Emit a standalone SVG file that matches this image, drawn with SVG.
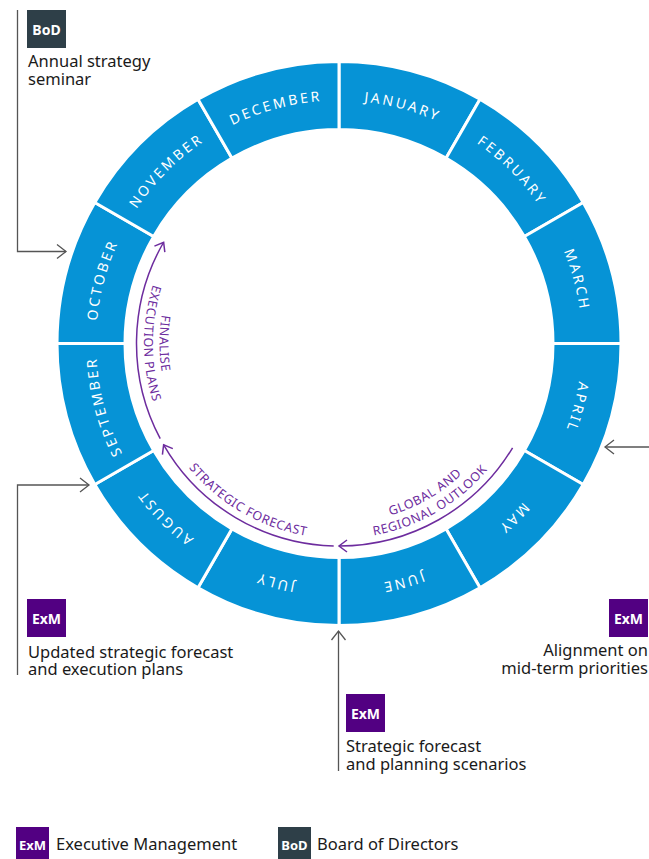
<svg xmlns="http://www.w3.org/2000/svg" width="649" height="859" viewBox="0 0 649 859">
<style>
.seg{fill:#0693d6;stroke:#ffffff;stroke-width:3}
.mon{font-family:"Noto Sans","DejaVu Sans",sans-serif;font-size:14px;letter-spacing:2.6px;fill:#ffffff}
.ptxt{font-family:"Noto Sans","DejaVu Sans",sans-serif;font-size:12.5px;letter-spacing:0.6px;fill:#6d2c9e}
.parc{fill:none;stroke:#6d2c9e;stroke-width:1.5;marker-end:url(#pa)}
.conn{fill:none;stroke:#555555;stroke-width:1.3;marker-end:url(#ga)}
.lbl{font-family:"Noto Sans","DejaVu Sans",sans-serif;font-size:16.5px;fill:#1a1a1a}
.badge{font-family:"Noto Sans","DejaVu Sans",sans-serif;font-weight:bold;font-size:14px;fill:#ffffff;text-anchor:middle}
.exm{fill:#520082}
.bod{fill:#2e3f48}
</style>
<defs>
<marker id="pa" markerUnits="userSpaceOnUse" markerWidth="20" markerHeight="20" refX="0" refY="0" viewBox="-10 -10 20 20" orient="auto">
<path d="M-8,-6 L0,0 L-8,6" fill="none" stroke="#6d2c9e" stroke-width="1.5"/>
</marker>
<marker id="ga" markerUnits="userSpaceOnUse" markerWidth="20" markerHeight="20" refX="0" refY="0" viewBox="-10 -10 20 20" orient="auto">
<path d="M-9,-7 L0,0 L-9,7" fill="none" stroke="#555555" stroke-width="1.3"/>
</marker>
<path id="m0" d="M339,100.5 A243,243 0 0 1 460.5,133.06"/>
<path id="m1" d="M460.5,133.06 A243,243 0 0 1 549.44,222"/>
<path id="m2" d="M549.44,222 A243,243 0 0 1 582,343.5"/>
<path id="m3" d="M582,343.5 A243,243 0 0 1 549.44,465"/>
<path id="m4" d="M549.44,465 A243,243 0 0 1 460.5,553.94"/>
<path id="m5" d="M460.5,553.94 A243,243 0 0 1 339,586.5"/>
<path id="m6" d="M339,586.5 A243,243 0 0 1 217.5,553.94"/>
<path id="m7" d="M217.5,553.94 A243,243 0 0 1 128.56,465"/>
<path id="m8" d="M128.56,465 A243,243 0 0 1 96,343.5"/>
<path id="m9" d="M96,343.5 A243,243 0 0 1 128.56,222"/>
<path id="m10" d="M128.56,222 A243,243 0 0 1 217.5,133.06"/>
<path id="m11" d="M217.5,133.06 A243,243 0 0 1 339,100.5"/>
<path id="tGo" d="M305.14,535.54 A195,195 0 0 0 522.24,410.19"/>
<path id="tGi" d="M307.83,520.27 A179.5,179.5 0 0 0 507.67,404.89"/>
<path id="tS" d="M155.76,410.19 A195,195 0 0 0 372.86,535.54"/>
<path id="tFo" d="M189.62,218.16 A195,195 0 0 0 189.62,468.84"/>
<path id="tFi" d="M201.5,228.12 A179.5,179.5 0 0 0 201.5,458.88"/>
</defs>

<g id="ring">
<g id="january"><path class="seg" d="M339,61.5 A282,282 0 0 1 480,99.28 L446,158.17 A214,214 0 0 0 339,129.5 Z"/><text class="mon"><textPath href="#m0" startOffset="50%" text-anchor="middle">JANUARY</textPath></text></g>
<g id="february"><path class="seg" d="M480,99.28 A282,282 0 0 1 583.22,202.5 L524.33,236.5 A214,214 0 0 0 446,158.17 Z"/><text class="mon"><textPath href="#m1" startOffset="50%" text-anchor="middle">FEBRUARY</textPath></text></g>
<g id="march"><path class="seg" d="M583.22,202.5 A282,282 0 0 1 621,343.5 L553,343.5 A214,214 0 0 0 524.33,236.5 Z"/><text class="mon"><textPath href="#m2" startOffset="50%" text-anchor="middle">MARCH</textPath></text></g>
<g id="april"><path class="seg" d="M621,343.5 A282,282 0 0 1 583.22,484.5 L524.33,450.5 A214,214 0 0 0 553,343.5 Z"/><text class="mon"><textPath href="#m3" startOffset="50%" text-anchor="middle">APRIL</textPath></text></g>
<g id="may"><path class="seg" d="M583.22,484.5 A282,282 0 0 1 480,587.72 L446,528.83 A214,214 0 0 0 524.33,450.5 Z"/><text class="mon"><textPath href="#m4" startOffset="50%" text-anchor="middle">MAY</textPath></text></g>
<g id="june"><path class="seg" d="M480,587.72 A282,282 0 0 1 339,625.5 L339,557.5 A214,214 0 0 0 446,528.83 Z"/><text class="mon"><textPath href="#m5" startOffset="50%" text-anchor="middle">JUNE</textPath></text></g>
<g id="july"><path class="seg" d="M339,625.5 A282,282 0 0 1 198,587.72 L232,528.83 A214,214 0 0 0 339,557.5 Z"/><text class="mon"><textPath href="#m6" startOffset="50%" text-anchor="middle">JULY</textPath></text></g>
<g id="august"><path class="seg" d="M198,587.72 A282,282 0 0 1 94.78,484.5 L153.67,450.5 A214,214 0 0 0 232,528.83 Z"/><text class="mon"><textPath href="#m7" startOffset="50%" text-anchor="middle">AUGUST</textPath></text></g>
<g id="september"><path class="seg" d="M94.78,484.5 A282,282 0 0 1 57,343.5 L125,343.5 A214,214 0 0 0 153.67,450.5 Z"/><text class="mon"><textPath href="#m8" startOffset="50%" text-anchor="middle">SEPTEMBER</textPath></text></g>
<g id="october"><path class="seg" d="M57,343.5 A282,282 0 0 1 94.78,202.5 L153.67,236.5 A214,214 0 0 0 125,343.5 Z"/><text class="mon"><textPath href="#m9" startOffset="50%" text-anchor="middle">OCTOBER</textPath></text></g>
<g id="november"><path class="seg" d="M94.78,202.5 A282,282 0 0 1 198,99.28 L232,158.17 A214,214 0 0 0 153.67,236.5 Z"/><text class="mon"><textPath href="#m10" startOffset="50%" text-anchor="middle">NOVEMBER</textPath></text></g>
<g id="december"><path class="seg" d="M198,99.28 A282,282 0 0 1 339,61.5 L339,129.5 A214,214 0 0 0 232,158.17 Z"/><text class="mon"><textPath href="#m11" startOffset="50%" text-anchor="middle">DECEMBER</textPath></text></g>
</g>

<g id="phases">
<g id="phase-global">
<path class="parc" d="M512.58,447.79 A202.5,202.5 0 0 1 339,546"/>
<text class="ptxt"><textPath href="#tGi" startOffset="50%" text-anchor="middle">GLOBAL AND</textPath></text>
<text class="ptxt"><textPath href="#tGo" startOffset="50%" text-anchor="middle">REGIONAL OUTLOOK</textPath></text>
</g>
<g id="phase-forecast">
<path class="parc" d="M333.7,545.93 A202.5,202.5 0 0 1 163.63,444.75"/>
<text class="ptxt"><textPath href="#tS" startOffset="50%" text-anchor="middle">STRATEGIC FORECAST</textPath></text>
</g>
<g id="phase-finalise">
<path class="parc" d="M160.21,438.57 A202.5,202.5 0 0 1 163.63,242.25"/>
<text class="ptxt"><textPath href="#tFi" startOffset="50%" text-anchor="middle">FINALISE</textPath></text>
<text class="ptxt"><textPath href="#tFo" startOffset="50%" text-anchor="middle">EXECUTION PLANS</textPath></text>
</g>
</g>

<g id="connectors">
<path class="conn" d="M17.5,10 V251.5 H66"/>
<path class="conn" d="M17.5,675 V485 H89"/>
<path class="conn" d="M338.5,771 V631"/>
<path class="conn" d="M649,447 H605"/>
</g>

<g id="event-seminar">
<rect class="bod" x="27" y="10" width="39" height="38"/>
<text class="badge" x="46.5" y="35">BoD</text>
<text class="lbl" x="28" y="67">Annual strategy</text>
<text class="lbl" x="28" y="85">seminar</text>
</g>

<g id="event-alignment">
<rect class="exm" x="609" y="599" width="39" height="38"/>
<text class="badge" x="628.5" y="624">ExM</text>
<text class="lbl" x="648" y="656" text-anchor="end">Alignment on</text>
<text class="lbl" x="648" y="674" text-anchor="end">mid-term priorities</text>
</g>

<g id="event-scenarios">
<rect class="exm" x="346" y="694" width="39" height="38"/>
<text class="badge" x="365.5" y="719">ExM</text>
<text class="lbl" x="346" y="752">Strategic forecast</text>
<text class="lbl" x="346" y="770">and planning scenarios</text>
</g>

<g id="event-updated">
<rect class="exm" x="27" y="599" width="39" height="38"/>
<text class="badge" x="46.5" y="624">ExM</text>
<text class="lbl" x="28" y="658">Updated strategic forecast</text>
<text class="lbl" x="28" y="675">and execution plans</text>
</g>

<g id="legend">
<g id="legend-exm">
<rect class="exm" x="16" y="827" width="33" height="32"/>
<text class="badge" x="32.5" y="850" style="font-size:13px">ExM</text>
<text class="lbl" x="56" y="850">Executive Management</text>
</g>
<g id="legend-bod">
<rect class="bod" x="278" y="827" width="33" height="32"/>
<text class="badge" x="294.5" y="850" style="font-size:13px">BoD</text>
<text class="lbl" x="317" y="850">Board of Directors</text>
</g>
</g>
</svg>
